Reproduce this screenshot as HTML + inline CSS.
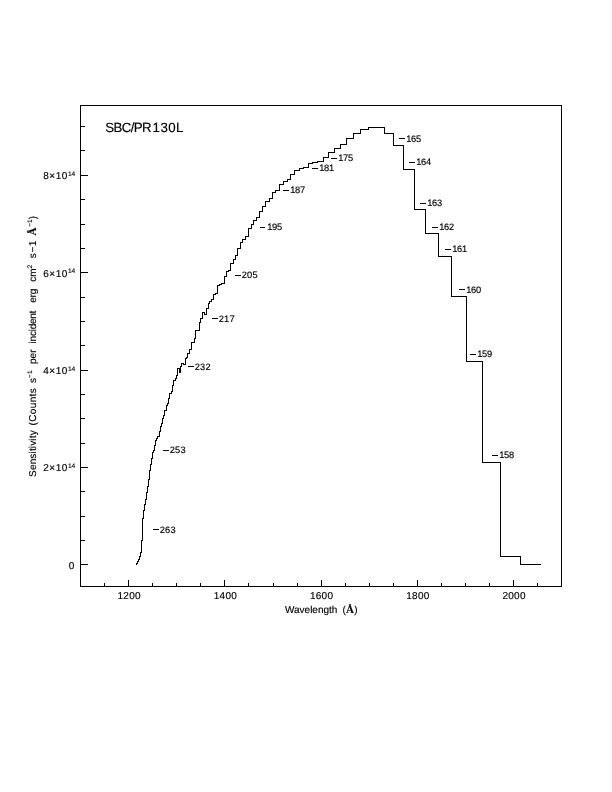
<!DOCTYPE html>
<html><head><meta charset="utf-8"><title>SBC/PR130L</title>
<style>
html,body{margin:0;padding:0;background:#fff;}
body{width:612px;height:792px;overflow:hidden;font-family:"Liberation Sans",sans-serif;}
svg{will-change:transform;display:block;position:absolute;left:0;top:0;}
text{stroke:#000;stroke-width:0.15px;text-rendering:geometricPrecision;font-family:"Liberation Sans",sans-serif;fill:#000;}
.t{font-size:10px;letter-spacing:0.25px;}
.ty{font-size:10px;letter-spacing:0.55px;}
.s{font-size:9.3px;}
.sup{font-size:6.6px;letter-spacing:0;}
.ttl{font-size:13.3px;}
.ax{font-size:10px;}
.ser{font-family:"Liberation Serif",serif;font-weight:bold;font-size:11px;}
</style></head><body>
<svg width="612" height="792" viewBox="0 0 612 792">
<rect x="0" y="0" width="612" height="792" fill="#fff"/>
<g fill="none" stroke="#000" stroke-width="1" shape-rendering="crispEdges">
<rect x="80.5" y="105.5" width="481.0" height="481.0"/>
<path d="M104.5,586.5 V583.0 M128.5,586.5 V580.0 M152.5,586.5 V583.0 M176.5,586.5 V583.0 M200.5,586.5 V583.0 M224.5,586.5 V580.0 M248.5,586.5 V583.0 M273.5,586.5 V583.0 M297.5,586.5 V583.0 M321.5,586.5 V580.0 M345.5,586.5 V583.0 M369.5,586.5 V583.0 M393.5,586.5 V583.0 M417.5,586.5 V580.0 M441.5,586.5 V583.0 M465.5,586.5 V583.0 M489.5,586.5 V583.0 M513.5,586.5 V580.0 M537.5,586.5 V583.0 M80.5,564.5 H87.5 M80.5,540.5 H84.5 M80.5,516.5 H84.5 M80.5,491.5 H84.5 M80.5,467.5 H87.5 M80.5,443.5 H84.5 M80.5,418.5 H84.5 M80.5,394.5 H84.5 M80.5,370.5 H87.5 M80.5,345.5 H84.5 M80.5,321.5 H84.5 M80.5,297.5 H84.5 M80.5,272.5 H87.5 M80.5,248.5 H84.5 M80.5,224.5 H84.5 M80.5,199.5 H84.5 M80.5,175.5 H87.5 M80.5,150.5 H84.5 M80.5,126.5 H84.5"/>
<path d="M135.5,564.5 H136.5 V563.5 H137.5 V561.5 H138.5 V559.5 H139.5 V556.5 H140.5 V552.5 H141.5 V540.5 H142.5 V518.5 H143.5 V510.5 H144.5 V504.5 H145.5 V499.5 H146.5 V492.5 H147.5 V486.5 H148.5 V479.5 H149.5 V470.5 H150.5 V464.5 H151.5 V458.5 H152.5 V452.5 H153.5 V450.5 H154.5 V445.5 H155.5 V440.5 H156.5 V438.5 H157.5 V436.5 H159.5 V431.5 H160.5 V426.5 H161.5 V423.5 H162.5 V418.5 H163.5 V415.5 H164.5 V410.5 H166.5 V405.5 H167.5 V403.5 H168.5 V398.5 H169.5 V393.5 H171.5 V391.5 H172.5 V385.5 H173.5 V380.5 H175.5 V378.5 H176.5 V375.5 H177.5 V368.5 H179.5 V372.5 H180.5 V366.5 H181.5 V363.5 H183.5 V364.5 H185.5 H185.5 V358.5 H186.5 V357.5 H187.5 V353.5 H189.5 V349.5 H191.5 V342.5 H194.5 V338.5 H195.5 V330.5 H199.5 V322.5 H200.5 V318.5 H202.5 V312.5 H204.5 V314.5 H206.5 V308.5 H208.5 V303.5 H209.5 V301.5 H211.5 V299.5 H213.5 V294.5 H215.5 V293.5 H217.5 V285.5 H219.5 V284.5 H221.5 V283.5 H224.5 V276.5 H226.5 V271.5 H228.5 V270.5 H230.5 V263.5 H233.5 V259.5 H235.5 V255.5 H237.5 V248.5 H240.5 V242.5 H242.5 V239.5 H245.5 V236.5 H248.5 V228.5 H251.5 V224.5 H253.5 V220.5 H256.5 V217.5 H259.5 V211.5 H262.5 V206.5 H265.5 V201.5 H269.5 V198.5 H272.5 V192.5 H275.5 V190.5 H279.5 V184.5 H283.5 V181.5 H287.5 V179.5 H290.5 V174.5 H294.5 V170.5 H299.5 V168.5 H303.5 V167.5 H308.5 V163.5 H312.5 V162.5 H317.5 V161.5 H323.5 V157.5 H328.5 V152.5 H334.5 V148.5 H340.5 V144.5 H346.5 V138.5 H353.5 V133.5 H360.5 V129.5 H368.5 V127.5 H384.5 V133.5 H393.5 V145.5 H403.5 V169.5 H414.5 V209.5 H425.5 V233.5 H438.5 V256.5 H451.5 V296.5 H466.5 V361.5 H482.5 V462.5 H500.5 V556.5 H520.5 V564.5 H540.5" stroke-linejoin="miter"/>
<path d="M153,529.5 h6 M163,450.5 h6 M188,366.5 h6 M212,318.5 h6 M235,275.5 h6 M260,227.5 h5 M283,190.5 h6 M312,168.5 h6 M331,158.5 h6 M399,138.5 h6 M409,162.5 h6 M420,203.5 h6 M432,227.5 h6 M445,249.5 h6 M459,289.5 h6 M470,354.5 h6 M492,455.5 h6"/>
</g>
<text x="105.3" y="132" class="ttl" textLength="46.4" lengthAdjust="spacing">SBC/PR</text>
<text x="152.6" y="132" class="ttl" textLength="30.8" lengthAdjust="spacing">130L</text>
<text x="159.8" y="533.0" class="s" textLength="15.8" lengthAdjust="spacing">263</text>
<text x="169.8" y="453.0" class="s" textLength="15.8" lengthAdjust="spacing">253</text>
<text x="194.8" y="370.0" class="s" textLength="15.8" lengthAdjust="spacing">232</text>
<text x="218.8" y="322.0" class="s" textLength="15.8" lengthAdjust="spacing">217</text>
<text x="241.8" y="278.0" class="s" textLength="15.8" lengthAdjust="spacing">205</text>
<text x="267.3" y="230.0" class="s" textLength="14.8" lengthAdjust="spacing">195</text>
<text x="290.3" y="193.0" class="s" textLength="14.8" lengthAdjust="spacing">187</text>
<text x="319.3" y="171.0" class="s" textLength="14.8" lengthAdjust="spacing">181</text>
<text x="338.3" y="161.0" class="s" textLength="14.8" lengthAdjust="spacing">175</text>
<text x="406.3" y="142.0" class="s" textLength="14.8" lengthAdjust="spacing">165</text>
<text x="416.3" y="165.0" class="s" textLength="14.8" lengthAdjust="spacing">164</text>
<text x="427.3" y="206.0" class="s" textLength="14.8" lengthAdjust="spacing">163</text>
<text x="439.3" y="230.0" class="s" textLength="14.8" lengthAdjust="spacing">162</text>
<text x="452.3" y="252.0" class="s" textLength="14.8" lengthAdjust="spacing">161</text>
<text x="466.3" y="293.0" class="s" textLength="14.8" lengthAdjust="spacing">160</text>
<text x="477.3" y="357.0" class="s" textLength="14.8" lengthAdjust="spacing">159</text>
<text x="499.3" y="458.0" class="s" textLength="14.8" lengthAdjust="spacing">158</text>
<text x="129.2" y="599" class="t" text-anchor="middle">1200</text>
<text x="225.4" y="599" class="t" text-anchor="middle">1400</text>
<text x="321.6" y="599" class="t" text-anchor="middle">1600</text>
<text x="417.9" y="599" class="t" text-anchor="middle">1800</text>
<text x="514.1" y="599" class="t" text-anchor="middle">2000</text>
<text x="74.6" y="568.5" class="t" text-anchor="end">0</text>
<text x="75.3" y="471.2" class="ty" text-anchor="end">2×10<tspan dy="-3.2" class="sup">14</tspan></text>
<text x="75.3" y="373.9" class="ty" text-anchor="end">4×10<tspan dy="-3.2" class="sup">14</tspan></text>
<text x="75.3" y="276.6" class="ty" text-anchor="end">6×10<tspan dy="-3.2" class="sup">14</tspan></text>
<text x="75.3" y="179.3" class="ty" text-anchor="end">8×10<tspan dy="-3.2" class="sup">14</tspan></text>
<text x="285" y="613" class="ax" textLength="52.3" lengthAdjust="spacing">Wavelength</text>
<text x="342.5" y="613" class="ax" textLength="15.2" lengthAdjust="spacing">(<tspan class="ser">Å</tspan>)</text>
<g transform="translate(35.5,476.9) rotate(-90)">
<text x="0" y="0" class="ax" textLength="46.6" lengthAdjust="spacing">Sensitivity</text>
<text x="51.3" y="0" class="ax" textLength="37.4" lengthAdjust="spacing">(Counts</text>
<text x="94" y="0" class="ax">s<tspan dy="-3.4" class="sup">−1</tspan></text>
<text x="112.8" y="0" class="ax" textLength="14.8" lengthAdjust="spacing">per</text>
<text x="133.5" y="0" class="ax" textLength="32.8" lengthAdjust="spacing">incident</text>
<text x="174.2" y="0" class="ax" textLength="13.9" lengthAdjust="spacing">erg</text>
<text x="195.1" y="0" class="ax">cm<tspan dy="-3.4" class="sup">2</tspan></text>
<text x="218.7" y="0" class="ax" textLength="17.6" lengthAdjust="spacing">s−1</text>
<text x="241.5" y="0" class="ax" style="letter-spacing:0.6px"><tspan class="ser">Å</tspan><tspan dy="-3.4" class="sup">−1</tspan><tspan dy="3.4">)</tspan></text>
</g>
</svg>
</body></html>
